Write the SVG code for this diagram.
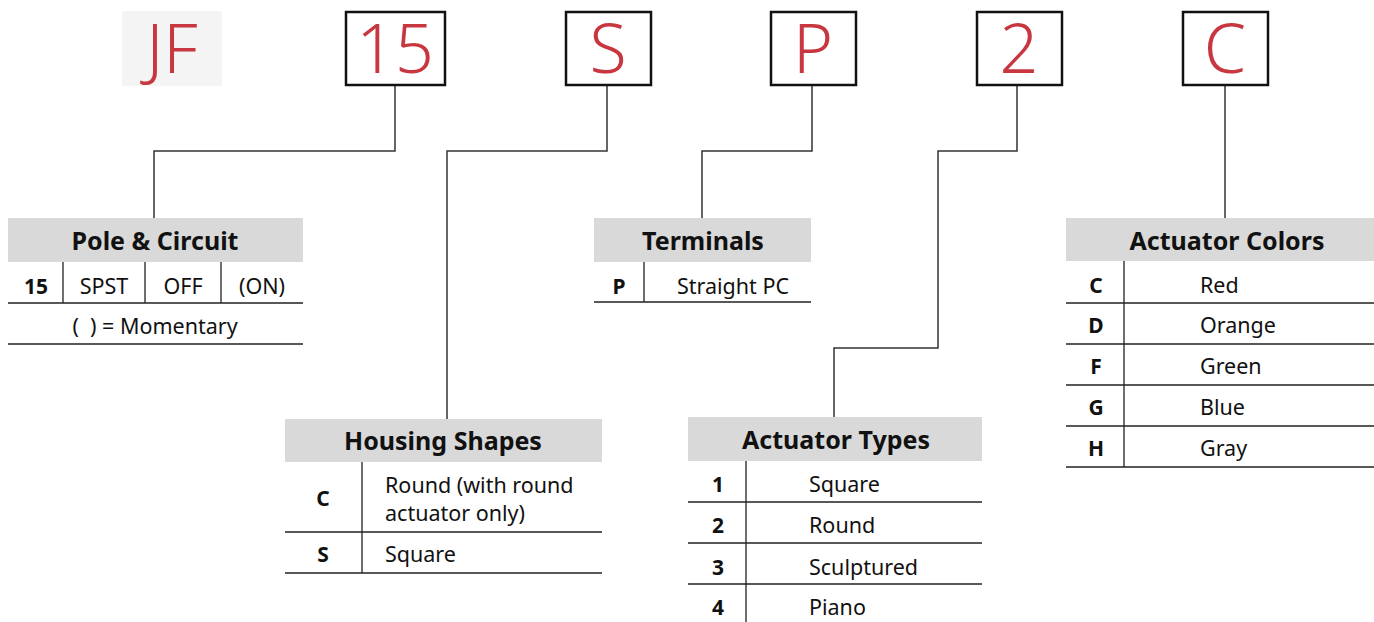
<svg xmlns="http://www.w3.org/2000/svg" width="1374" height="622" viewBox="0 0 1374 622">
<style>
.code{font-family:"Noto Sans","Liberation Sans",sans-serif;font-size:68px;font-weight:350;fill:#c8363f;text-anchor:middle}
.box{fill:#fff;stroke:#111;stroke-width:2.5}
.hdr{fill:#d9d9d9}
.ht{font-family:"Noto Sans","Liberation Sans",sans-serif;font-size:25px;font-weight:bold;fill:#111;text-anchor:middle}
.k{font-family:"Noto Sans","Liberation Sans",sans-serif;font-size:21px;font-weight:bold;fill:#111;text-anchor:middle}
.v{font-family:"Noto Sans","Liberation Sans",sans-serif;font-size:21.5px;fill:#111}
.c{text-anchor:middle}
.ln{stroke:#222;stroke-width:1.3;fill:none}
.con{stroke:#333;stroke-width:1.5;fill:none}
</style>
<g id="connectors">
<path class="con" d="M395 86V151H154V218"/>
<path class="con" d="M607 86V151H447V419"/>
<path class="con" d="M812 86V151H702V218"/>
<path class="con" d="M1017 86V151H938V348H834V417"/>
<path class="con" d="M1225 86V218"/>
</g>
<g id="code-jf">
<rect x="122" y="11" width="100" height="75" fill="#f4f4f4"/>
<text class="code" x="172" y="73">JF</text>
</g>
<g id="code-15">
<rect class="box" x="346" y="12" width="99" height="73"/>
<text class="code" x="395" y="73">15</text>
</g>
<g id="code-s">
<rect class="box" x="566" y="12" width="85" height="73"/>
<text class="code" x="608" y="73">S</text>
</g>
<g id="code-p">
<rect class="box" x="771" y="12" width="85" height="73"/>
<text class="code" x="813" y="73">P</text>
</g>
<g id="code-2">
<rect class="box" x="977" y="12" width="85" height="73"/>
<text class="code" x="1019" y="73">2</text>
</g>
<g id="code-c">
<rect class="box" x="1183" y="12" width="85" height="73"/>
<text class="code" x="1225" y="73">C</text>
</g>
<g id="pole-circuit">
<rect class="hdr" x="8" y="218" width="295" height="44"/>
<text class="ht" x="155" y="250">Pole &amp; Circuit</text>
<path class="ln" d="M63 262V303M145 262V303M221 262V303M8 303H303M8 344H303"/>
<text class="k" x="36" y="294">15</text>
<text class="v c" x="104" y="294">SPST</text>
<text class="v c" x="183" y="294">OFF</text>
<text class="v c" x="262" y="294">(ON)</text>
<text class="v c" x="155" y="334">(&#160;&#160;) = Momentary</text>
</g>
<g id="housing-shapes">
<rect class="hdr" x="285" y="419" width="317" height="43"/>
<text class="ht" x="443" y="450">Housing Shapes</text>
<path class="ln" d="M362 462V573M285 532H602M285 573H602"/>
<text class="k" x="323" y="506">C</text>
<text class="v" x="385" y="493">Round (with round</text>
<text class="v" x="385" y="521">actuator only)</text>
<text class="k" x="323" y="562">S</text>
<text class="v" x="385" y="562">Square</text>
</g>
<g id="terminals">
<rect class="hdr" x="594" y="218" width="217" height="44"/>
<text class="ht" x="703" y="250">Terminals</text>
<path class="ln" d="M644 262V302M594 302H811"/>
<text class="k" x="619" y="294">P</text>
<text class="v c" x="733" y="294">Straight PC</text>
</g>
<g id="actuator-types">
<rect class="hdr" x="688" y="417" width="294" height="44"/>
<text class="ht" x="836" y="449">Actuator Types</text>
<path class="ln" d="M746 461V622M688 502H982M688 543H982M688 584H982"/>
<text class="k" x="718" y="492">1</text>
<text class="v" x="809" y="492">Square</text>
<text class="k" x="718" y="533">2</text>
<text class="v" x="809" y="533">Round</text>
<text class="k" x="718" y="575">3</text>
<text class="v" x="809" y="575">Sculptured</text>
<text class="k" x="718" y="615">4</text>
<text class="v" x="809" y="615">Piano</text>
</g>
<g id="actuator-colors">
<rect class="hdr" x="1066" y="218" width="308" height="43"/>
<text class="ht" x="1227" y="250">Actuator Colors</text>
<path class="ln" d="M1124 261V467M1066 303H1374M1066 344H1374M1066 385H1374M1066 426H1374M1066 467H1374"/>
<text class="k" x="1096" y="293">C</text>
<text class="v" x="1200" y="293">Red</text>
<text class="k" x="1096" y="333">D</text>
<text class="v" x="1200" y="333">Orange</text>
<text class="k" x="1096" y="374">F</text>
<text class="v" x="1200" y="374">Green</text>
<text class="k" x="1096" y="415">G</text>
<text class="v" x="1200" y="415">Blue</text>
<text class="k" x="1096" y="456">H</text>
<text class="v" x="1200" y="456">Gray</text>
</g>
</svg>
